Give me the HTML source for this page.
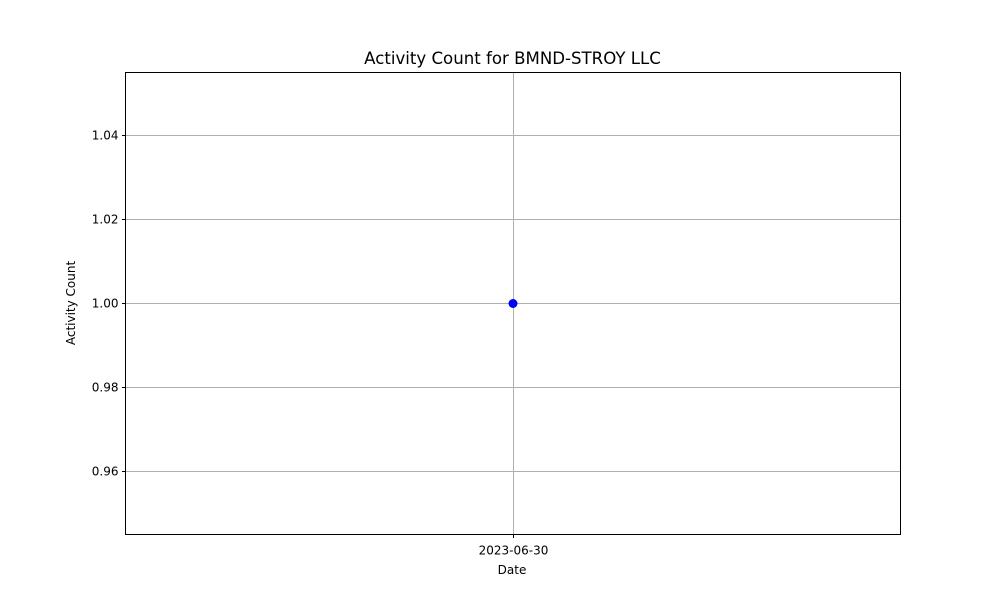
<!DOCTYPE html>
<html><head><meta charset="utf-8"><style>body{margin:0;background:#fff}svg{display:block;font-family:"DejaVu Sans","Liberation Sans",sans-serif}</style></head>
<body>
<svg id="chart" width="1000" height="600">
<rect width="1000" height="600" fill="#fff"/>
<text x="512.5" y="64" text-anchor="middle" font-size="16.6">Activity Count for BMND-STROY LLC</text>
<g id="grid"></g>
<g id="yticks"></g>
<g id="xticks"></g>
<rect x="125.5" y="72.5" width="775" height="462" fill="none" stroke="#000" stroke-width="1"/>
<g id="marks"></g>
<text x="512" y="574" text-anchor="middle" font-size="12">Date</text>
<text transform="translate(75,303) rotate(-90)" text-anchor="middle" font-size="12">Activity Count</text>
</svg>
<script>
const categories = ["2023-06-30"];
const values = [1];
const yTicks = [0.96, 0.98, 1.00, 1.02, 1.04];
const yTickLabels = ["0.96", "0.98", "1.00", "1.02", "1.04"];

const L=125.5,R=900.5,T=72.5,B=534.5;
const yMin=0.945,yMax=1.055;
const ns="http://www.w3.org/2000/svg";
function y(v){return B-(v-yMin)/(yMax-yMin)*(B-T);}
function x(i){const n=categories.length;return n===1?(L+R)/2:L+(R-L)*(0.05+0.9*i/(n-1));}
function mk(tag,attrs,parent){const e=document.createElementNS(ns,tag);for(const k in attrs)e.setAttribute(k,attrs[k]);document.getElementById(parent).appendChild(e);return e;}
yTicks.forEach((t,i)=>{
  const yy=Math.round(y(t))+0.5;
  const g=mk("line",{x1:L,x2:R,y1:yy,y2:yy,stroke:"#b0b0b0","stroke-width":1},"grid");
  
  
  const tk=mk("line",{x1:L-3.5,x2:L,y1:yy,y2:yy,stroke:"#000"},"yticks");
  
  
  const tx=mk("text",{x:L-7,y:yy+4,"text-anchor":"end","font-size":12},"yticks");
  tx.textContent=yTickLabels[i];
  
  
});
categories.forEach((c,i)=>{
  const xx=Math.round(x(i))+0.5;
  const g=mk("line",{x1:xx,x2:xx,y1:T,y2:B,stroke:"#b0b0b0","stroke-width":1},"grid");
  
  
  const tk=mk("line",{x1:xx,x2:xx,y1:B,y2:B+3.5,stroke:"#000"},"xticks");
  
  
  const tx=mk("text",{x:xx,y:B+20,"text-anchor":"middle","font-size":12},"xticks");
  tx.textContent=c;
  
  
});
if(values.length>1){
  const p=mk("polyline",{points:values.map((v,i)=>x(i)+","+y(v)).join(" "),fill:"none",stroke:"#0000ff","stroke-width":1.5},"marks");
  
  
}
values.forEach((v,i)=>{
  const c=mk("circle",{cx:x(i),cy:y(v),r:4.5,fill:"#0000ff"},"marks");
  
  
});
</script>
</body></html>
